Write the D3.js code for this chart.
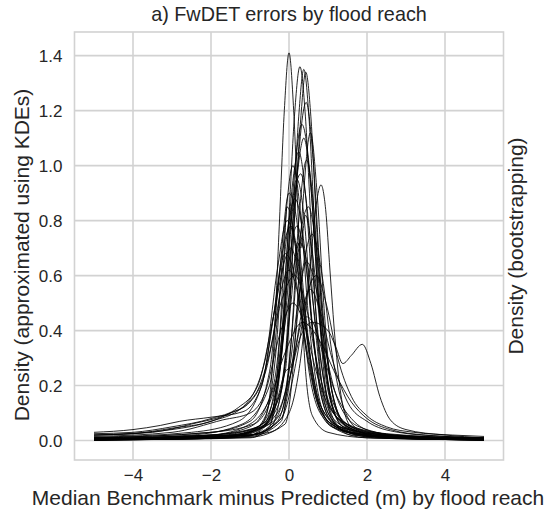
<!DOCTYPE html>
<html>
<head>
<meta charset="utf-8">
<script src="https://cdn.jsdelivr.net/npm/d3@7"></script>
<style>
  body { margin: 0; background: #fff; }
  text { font-family: "Liberation Sans", Arial, sans-serif; fill: #262626; }
</style>
</head>
<body>
<div class="main"></div>
<script>
// tick values
const xTicks = [-4, -2, 0, 2, 4];
const yTicks = [0, 0.2, 0.4, 0.6, 0.8, 1.0, 1.2, 1.4];

// one KDE per flood reach, [error, density] points
const reachCurves = [
  [[-5,.004],[-3,.006],[-2,.012],[-1,.03],[-.6,.09],[-.4,.32],[-.25,.78],[-.12,1.2],[0,1.41],[.12,1.2],[.25,.76],[.4,.3],[.6,.09],[1,.03],[2,.01],[5,.003]],
  [[-5,.002],[-2,.008],[-1,.025],[-.5,.08],[-.2,.35],[0,.82],[.14,1.18],[.28,1.36],[.42,1.18],[.56,.8],[.75,.34],[1,.1],[1.5,.03],[3,.008],[5,.002]],
  [[-5,.002],[-1.5,.01],[-.5,.04],[-.1,.3],[.1,.8],[.25,1.18],[.38,1.35],[.51,1.18],[.65,.8],[.85,.32],[1.1,.08],[1.6,.02],[3,.008],[5,.003]],
  [[-5,.01],[-2,.02],[-.7,.05],[-.1,.25],[.13,.78],[.29,1.15],[.43,1.34],[.56,1.18],[.7,.8],[.9,.35],[1.2,.1],[2,.03],[5,.006]],
  [[-5,.003],[-1,.02],[-.3,.12],[0,.45],[.2,.95],[.44,1.23],[.62,1.02],[.8,.6],[1.05,.22],[1.4,.06],[2.5,.012],[5,.004]],
  [[-5,.005],[-1.5,.02],[-.6,.06],[-.2,.3],[.05,.82],[.33,1.15],[.55,.95],[.75,.52],[1,.2],[1.3,.07],[2,.02],[5,.003]],
  [[-5,.003],[-2,.015],[-.8,.05],[-.3,.2],[0,.6],[.2,.95],[.38,1.1],[.56,.92],[.75,.52],[1,.18],[1.4,.05],[3,.01],[5,.002]],
  [[-5,.008],[-2,.02],[-1,.05],[-.4,.2],[-.1,.6],[.08,.92],[.25,1.05],[.42,.9],[.62,.5],[.85,.2],[1.2,.07],[2,.02],[5,.004]],
  [[-5,.004],[-1.5,.015],[-.7,.06],[-.35,.3],[-.15,.7],[.1,1.0],[.3,.82],[.5,.45],[.75,.17],[1.1,.05],[2,.01],[5,.002]],
  [[-5,.002],[-1,.02],[-.4,.12],[-.1,.48],[.1,.85],[.3,.97],[.5,.8],[.7,.45],[.95,.17],[1.3,.05],[2.2,.01],[5,.003]],
  [[-5,.002],[-2,.008],[-.5,.03],[0,.1],[.3,.3],[.55,.65],[.7,.86],[.82,.93],[.94,.84],[1.05,.62],[1.18,.37],[1.35,.15],[1.6,.05],[2.5,.012],[5,.002]],
  [[-5,.01],[-2,.03],[-1,.07],[-.5,.25],[-.25,.6],[0,.9],[.2,.8],[.4,.5],[.65,.2],[1,.07],[1.6,.03],[3,.01],[5,.003]],
  [[-5,.006],[-2.5,.02],[-1.2,.06],[-.5,.2],[-.2,.58],[.15,.88],[.4,.7],[.6,.4],[.85,.15],[1.2,.05],[2,.015],[5,.004]],
  [[-5,.003],[-1,.02],[-.2,.1],[.05,.35],[.25,.7],[.5,.85],[.7,.7],[.9,.4],[1.15,.15],[1.5,.05],[2.5,.012],[5,.003]],
  [[-5,.02],[-3,.04],[-2,.07],[-1.2,.12],[-.6,.3],[-.3,.62],[-.05,.8],[.2,.68],[.45,.38],[.7,.15],[1.1,.05],[2,.02],[5,.008]],
  [[-5,.005],[-1.5,.02],[-.6,.07],[-.25,.3],[0,.65],[.2,.78],[.42,.65],[.65,.35],[.9,.14],[1.3,.05],[2.2,.015],[5,.004]],
  [[-5,.002],[-1,.02],[-.2,.08],[.1,.3],[.35,.62],[.6,.75],[.85,.6],[1.1,.32],[1.4,.12],[1.8,.04],[3,.01],[5,.003]],
  [[-5,.01],[-2,.03],[-.9,.06],[-.35,.2],[0,.52],[.28,.72],[.5,.62],[.75,.35],[1,.15],[1.4,.06],[2.2,.02],[5,.005]],
  [[-5,.025],[-4,.03],[-3,.05],[-2,.08],[-1.3,.12],[-.8,.2],[-.4,.45],[-.1,.66],[.05,.7],[.25,.6],[.5,.34],[.8,.13],[1.3,.05],[2.5,.02],[5,.008]],
  [[-5,.004],[-1.5,.02],[-.4,.07],[0,.25],[.25,.52],[.45,.65],[.7,.55],[.95,.32],[1.3,.13],[1.8,.05],[3,.015],[5,.004]],
  [[-5,.02],[-3.5,.03],[-2.5,.06],[-1.5,.1],[-1,.14],[-.6,.25],[-.25,.48],[.15,.6],[.45,.48],[.75,.26],[1.1,.11],[1.6,.05],[2.5,.02],[5,.006]],
  [[-5,.003],[-1,.02],[-.3,.07],[.1,.28],[.35,.48],[.55,.55],[.8,.47],[1.1,.3],[1.5,.14],[2,.07],[2.8,.03],[4,.015],[5,.01]],
  [[-5,.003],[-2,.01],[-1,.03],[-.3,.1],[0,.22],[.3,.38],[.6,.43],[1,.4],[1.2,.34],[1.38,.28],[1.6,.31],[1.88,.35],[2.1,.28],[2.33,.16],[2.6,.075],[3,.04],[4,.02],[5,.01]],
  [[-5,.003],[-1.5,.015],[-.6,.06],[-.3,.15],[-.1,.25],[.05,.27],[.15,.32],[.3,.42],[.45,.45],[.65,.42],[.9,.3],[1.2,.17],[1.6,.08],[2.2,.03],[3.5,.01],[5,.004]],
  [[-5,.005],[-2,.02],[-1,.06],[-.5,.15],[-.1,.32],[.35,.43],[.8,.36],[1.2,.24],[1.6,.14],[2,.08],[2.6,.04],[3.5,.02],[5,.01]],
  [[-5,.02],[-4,.025],[-3,.045],[-2,.07],[-1.5,.1],[-1.08,.133],[-.75,.2],[-.45,.35],[-.2,.55],[0,.62],[.2,.55],[.45,.32],[.75,.13],[1.2,.05],[2,.02],[5,.005]],
  [[-5,.002],[-1,.01],[-.5,.05],[-.3,.25],[-.15,.6],[-.05,.85],[.1,.78],[.3,.5],[.55,.22],[.9,.08],[1.5,.03],[3,.008],[5,.002]],
  [[-5,.004],[-1.5,.015],[-.5,.06],[-.2,.3],[0,.72],[.2,.95],[.38,.82],[.58,.45],[.8,.18],[1.1,.07],[1.8,.02],[5,.003]],
  [[-5,.002],[-1,.015],[-.2,.07],[.05,.35],[.25,.8],[.45,1.02],[.63,.85],[.82,.45],[1.05,.16],[1.4,.05],[2.5,.01],[5,.002]],
  [[-5,.003],[-1,.02],[-.2,.08],[.2,.3],[.45,.52],[.7,.6],[.95,.5],[1.25,.3],[1.6,.16],[2,.09],[2.5,.05],[3.2,.03],[4.2,.02],[5,.015]],
  [[-5,.015],[-3,.03],[-1.7,.075],[-1,.1],[-.6,.18],[-.25,.38],[.1,.5],[.4,.42],[.7,.25],[1,.13],[1.5,.06],[2.5,.025],[5,.008]],
  [[-5,.03],[-4,.04],[-3.3,.055],[-2.8,.07],[-2,.085],[-1.18,.105],[-.7,.2],[-.4,.45],[-.15,.7],[.05,.78],[.25,.65],[.5,.35],[.8,.13],[1.3,.05],[2.5,.02],[5,.01]],
  [[-5,.002],[-1,.012],[-.1,.06],[.15,.35],[.35,.85],[.55,1.12],[.72,.9],[.9,.48],[1.1,.18],[1.5,.05],[2.5,.01],[5,.002]],
  [[-5,.006],[-2,.02],[-.8,.05],[-.2,.18],[.05,.5],[.22,.72],[.3,.7],[.42,.82],[.6,.68],[.85,.35],[1.1,.15],[1.6,.05],[3,.015],[5,.004]],
  [[-5,.012],[-2.5,.03],[-1.3,.07],[-.7,.2],[-.4,.45],[-.1,.68],[.15,.6],[.4,.38],[.7,.16],[1.1,.06],[2,.02],[5,.005]]
];

const W = 547, H = 512;
const plot = { left: 74.5, right: 503.5, top: 32, bottom: 460 };

const svg = d3.select('.main').append('svg')
    .attr('width', W)
    .attr('height', H);

let xScale = d3.scaleLinear().domain([-5.5, 5.5]).range([plot.left, plot.right]);
let yScale = d3.scaleLinear().domain([-0.0707, 1.486]).range([plot.bottom, plot.top]);

// grid lines
svg.append('g').selectAll('line').data(xTicks).enter().append('line')
    .attr('x1', d => xScale(d)).attr('x2', d => xScale(d))
    .attr('y1', plot.top).attr('y2', plot.bottom)
    .attr('stroke', '#d2d2d2').attr('stroke-width', 1.6);

svg.append('g').selectAll('line').data(yTicks).enter().append('line')
    .attr('x1', plot.left).attr('x2', plot.right)
    .attr('y1', d => yScale(d)).attr('y2', d => yScale(d))
    .attr('stroke', '#d2d2d2').attr('stroke-width', 1.6);

// axes frame
svg.append('rect')
    .attr('x', plot.left).attr('y', plot.top)
    .attr('width', plot.right - plot.left)
    .attr('height', plot.bottom - plot.top)
    .attr('fill', 'none')
    .attr('stroke', '#d2d2d2')
    .attr('stroke-width', 1.6);

// axes (labels only, seaborn whitegrid has no tick marks)
let xAxis = d3.axisBottom(xScale).tickValues(xTicks).tickSize(0).tickPadding(9)
    .tickFormat(d => d < 0 ? '\u2212' + Math.abs(d) : d);
let yAxis = d3.axisLeft(yScale).tickValues(yTicks).tickSize(0).tickPadding(12)
    .tickFormat(d3.format('.1f'));

svg.append('g')
    .attr('class', 'x axis')
    .attr('transform', 'translate(0,' + plot.bottom + ')')
    .call(xAxis)
    .call(g => g.select('.domain').remove());

svg.append('g')
    .attr('class', 'y axis')
    .attr('transform', 'translate(' + plot.left + ',0)')
    .call(yAxis)
    .call(g => g.select('.domain').remove());

svg.selectAll('.axis text')
    .attr('fill', '#262626')
    .style('font-size', '17px')
    .style('font-family', '"Liberation Sans", Arial, sans-serif');

// the KDE lines
let line = d3.line()
    .x(d => xScale(d[0]))
    .y(d => yScale(d[1]))
    .curve(d3.curveMonotoneX);

svg.append('g').selectAll('path').data(reachCurves).enter().append('path')
    .attr('d', line)
    .attr('fill', 'none')
    .attr('stroke', '#000')
    .attr('stroke-width', 0.85);

// title and axis labels
svg.append('text')
    .attr('x', (plot.left + plot.right) / 2)
    .attr('y', 21)
    .attr('text-anchor', 'middle')
    .style('font-size', '19.8px')
    .text('a) FwDET errors by flood reach');

svg.append('text')
    .attr('x', 288)
    .attr('y', 505)
    .attr('text-anchor', 'middle')
    .style('font-size', '21px')
    .text('Median Benchmark minus Predicted (m) by flood reach');

svg.append('text')
    .attr('transform', 'translate(29,' + 255 + ') rotate(-90)')
    .attr('text-anchor', 'middle')
    .style('font-size', '21px')
    .text('Density (approximated using KDEs)');

svg.append('text')
    .attr('transform', 'translate(523,' + 246 + ') rotate(-90)')
    .attr('text-anchor', 'middle')
    .style('font-size', '21px')
    .text('Density (bootstrapping)');
</script>
</body>
</html>
